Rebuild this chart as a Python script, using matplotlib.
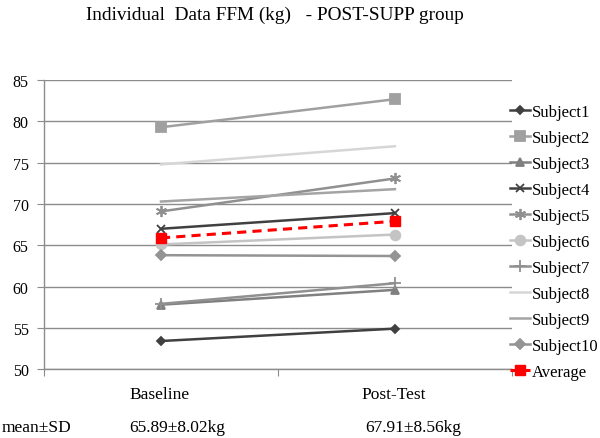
import matplotlib
matplotlib.use("Agg")
import matplotlib.pyplot as plt

plt.rcParams["font.family"]=["Liberation Serif","DejaVu Serif"]

# data
timepoints=["Baseline","Post-Test"]
subjects=["Subject1","Subject2","Subject3","Subject4","Subject5",
          "Subject6","Subject7","Subject8","Subject9","Subject10"]
baseline=[53.4,79.3,57.8,67.0,69.1,65.1,57.9,74.8,70.3,63.8]
post_test=[54.9,82.7,59.6,68.9,73.1,66.3,60.4,77.0,71.8,63.7]
average=[65.89,67.91]
mean_sd=["65.89\u00b18.02kg","67.91\u00b18.56kg"]

colors=["#404040","#a0a0a0","#808080","#404040","#909090",
        "#c4c4c4","#909090","#d6d6d6","#a4a4a4","#949494"]
markers=["D","s","^","x",(6,2,0),"o","+","","","D"]
msizes=[4.5,6.5,6,6,8,7,8,0,0,5]

fig=plt.figure(figsize=(6,4.39),dpi=100,facecolor="white")
ax=fig.add_axes([0.0733,0.157,0.78,0.658])

xpos=[0,1]
for i,name in enumerate(subjects):
    ax.plot(xpos,[baseline[i],post_test[i]],color=colors[i],lw=1.8,
            marker=markers[i],markersize=msizes[i],
            markeredgewidth=1.3,label=name)

ax.plot(xpos,average,color="red",lw=2.2,ls=(0,(3,2)),marker="s",
        markersize=7,label="Average")

ax.set_xlim(-0.5,1.5)
ax.set_ylim(50,85)
ax.set_yticks(range(50,86,5))
ax.yaxis.grid(True,color="#8c8c8c",lw=1.0)
ax.set_axisbelow(True)
for side in ["top","right"]:
    ax.spines[side].set_visible(False)
for side in ["left","bottom"]:
    ax.spines[side].set_color("#8c8c8c")
    ax.spines[side].set_linewidth(1.0)
ax.set_xticks([-0.5,0.5,1.5])
ax.set_xticklabels([])
ax.tick_params(axis="x",direction="out",length=5,color="#8c8c8c")
ax.tick_params(axis="y",direction="out",length=5,color="#8c8c8c",
               labelsize=11.5,pad=6)

fig.text(0.458,0.965,"Individual  Data FFM (kg)   - POST-SUPP group",
         ha="center",va="center",fontsize=13.9)

for i,lab in enumerate(timepoints):
    x=ax.transData.transform((xpos[i],0))[0]/fig.bbox.width
    fig.text(x-0.002,0.100,lab,ha="center",va="center",fontsize=12.5)
fig.text(0.215,0.025,mean_sd[0],ha="left",va="center",fontsize=12.5)
fig.text(0.608,0.025,mean_sd[1],ha="left",va="center",fontsize=12.5)
fig.text(0.003,0.025,"mean\u00b1SD",ha="left",va="center",fontsize=12.5)

ax.legend(loc="upper left",bbox_to_anchor=(0.982,0.94),frameon=False,
          fontsize=12,handlelength=1.2,handletextpad=0.1,
          labelspacing=0.60,borderaxespad=0)

fig.savefig("out.png",dpi=100,facecolor="white")
